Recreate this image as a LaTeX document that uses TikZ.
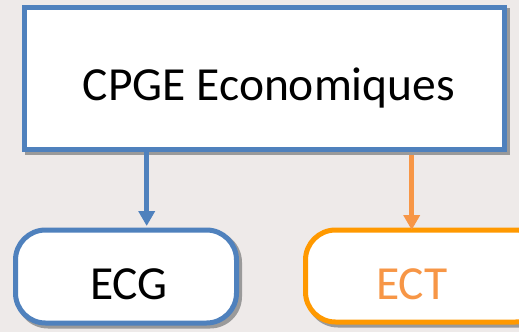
\documentclass[tikz,border=0pt]{standalone}
\usepackage{fontspec}
\setmainfont{Carlito}
\usetikzlibrary{arrows.meta}
\definecolor{bg}{HTML}{EEEAE9}
\definecolor{oblue}{HTML}{4F81BD}
\definecolor{oorange}{HTML}{F79646}
\definecolor{borange}{HTML}{FF9900}
\definecolor{shadowgray}{HTML}{9A9A9A}
\pgfdeclarelayer{back}
\pgfdeclarelayer{shade}
\pgfsetlayers{back,shade,main}
\tikzset{
  topbox/.style={draw=oblue,line width=5pt,fill=white},
  roundbox/.style={line width=5pt,fill=white,rounded corners=30pt},
  shadowshape/.style={fill=shadowgray},
  link/.style={line width=4.5pt,-{Triangle[width=16pt,length=15pt]}},
  lbl/.style={font=\fontsize{47.5}{56}\selectfont,inner sep=0pt,anchor=base}
}
\begin{document}
\begin{tikzpicture}[x=1pt,y=-1pt]
\begin{pgfonlayer}{back}
\fill[bg] (0,0) rectangle (519,332);
\end{pgfonlayer}
\useasboundingbox (0,0) rectangle (519,332);
\node[topbox,minimum width=479.5pt,minimum height=142pt,inner sep=0pt] (top) at (264.25,78.5) {};
\node[lbl] (toptxt) at (269,100) {CPGE Economiques};
\node[roundbox,draw=oblue,minimum width=221pt,minimum height=93pt,inner sep=0pt] (ecg) at (126,276.5) {};
\node[lbl] (ecgtxt) at (129,299) {ECG};
\node[roundbox,draw=borange,minimum width=240pt,minimum height=92pt,inner sep=0pt] (ect) at (425.5,276) {};
\node[lbl,text=oorange] (ecttxt) at (412,299) {ECT};
\begin{pgfonlayer}{shade}
\fill[shadowshape] ([shift={(3,3)}]top.north west) rectangle ([shift={(3,3)}]top.south east);
\fill[shadowshape,rounded corners=32pt] ([shift={(3,3)}]ecg.north west) rectangle ([shift={(3,3)}]ecg.south east);
\fill[shadowshape,rounded corners=32pt] ([shift={(3,3)}]ect.north west) rectangle ([shift={(3,3)}]ect.south east);
\end{pgfonlayer}
\draw[link,draw=oblue,fill=oblue] (top.south -| 146.7,0) -- (146.7,226);
\draw[link,draw=oorange,fill=oorange] ([yshift=-3pt]top.south -| 411.7,0) -- (411.7,230);
\end{tikzpicture}
\end{document}
